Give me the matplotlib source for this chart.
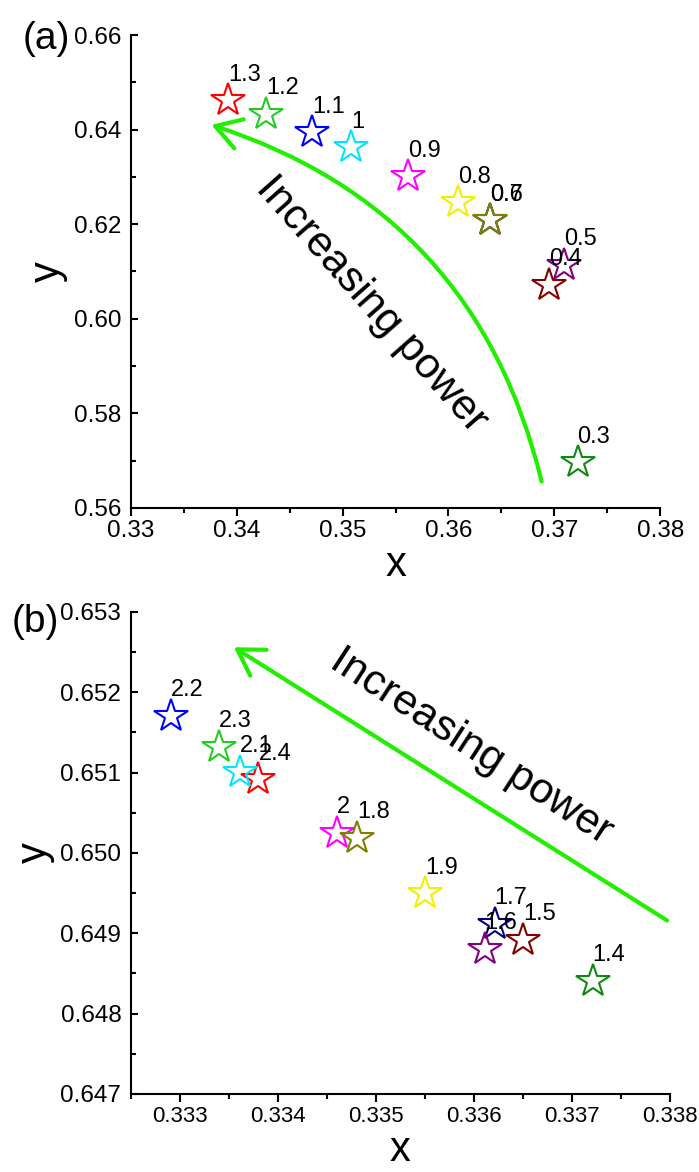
import matplotlib
matplotlib.use("Agg")
import matplotlib.pyplot as plt
from matplotlib.patches import FancyArrowPatch
from matplotlib.ticker import MultipleLocator, FormatStrFormatter

plt.rcParams['font.family'] = ['Liberation Sans', 'DejaVu Sans']

# Panel (a): CIE x, y para potencias bajas
etiquetas_a = ['1.3', '1.2', '1.1', '1', '0.9', '0.8', '0.6', '0.7', '0.5', '0.4', '0.3']
x_a = [0.3392, 0.3428, 0.3471, 0.3508, 0.3562, 0.3609, 0.3639, 0.3639, 0.3709, 0.3695, 0.3722]
y_a = [0.6462, 0.6434, 0.6395, 0.6363, 0.6302, 0.6246, 0.6208, 0.6209, 0.6114, 0.6072, 0.5697]
colores_a = ['#ff0000', '#22cc22', '#0000ff', '#00e5ff', '#ff00ff', '#f0f000',
             '#000080', '#808000', '#800080', '#800000', '#118811']

# Panel (b): CIE x, y para potencias altas
etiquetas_b = ['2.4', '2.3', '2.2', '2.1', '2', '1.9', '1.8', '1.7', '1.6', '1.5', '1.4']
x_b = [0.33380, 0.33340, 0.33291, 0.33361, 0.33460, 0.33550, 0.33481, 0.33621, 0.33611, 0.33650, 0.33721]
y_b = [0.65092, 0.65132, 0.65171, 0.65101, 0.65025, 0.64950, 0.65019, 0.64912, 0.64881, 0.64892, 0.64841]
colores_b = ['#ff0000', '#22cc22', '#0000ff', '#00e5ff', '#ff00ff', '#f0f000',
             '#808000', '#000080', '#800080', '#800000', '#118811']

verde = '#22ee00'

fig = plt.figure(figsize=(6.99, 11.72), dpi=100)
ax1 = fig.add_axes([0.1874, 0.5666, 0.757, 0.4035])
ax2 = fig.add_axes([0.1874, 0.0666, 0.771, 0.4113])


# Funcion para dar el estilo de Origin a los ejes
def estilo_ejes(ax, xlim, ylim, xmaj, xmin, ymaj, ymin, fmt_x, fmt_y, tam_x=17.5):
    ax.set_xlim(*xlim)
    ax.set_ylim(*ylim)
    ax.xaxis.set_major_locator(MultipleLocator(xmaj))
    ax.xaxis.set_minor_locator(MultipleLocator(xmin))
    ax.yaxis.set_major_locator(MultipleLocator(ymaj))
    ax.yaxis.set_minor_locator(MultipleLocator(ymin))
    ax.xaxis.set_major_formatter(FormatStrFormatter(fmt_x))
    ax.yaxis.set_major_formatter(FormatStrFormatter(fmt_y))
    for lado in ['top', 'right']:
        ax.spines[lado].set_visible(False)
    for lado in ['left', 'bottom']:
        ax.spines[lado].set_linewidth(1.5)
    ax.tick_params(axis='x', which='major', direction='out', length=6, width=1.5,
                   labelsize=tam_x, pad=3)
    ax.tick_params(axis='x', which='minor', direction='out', length=3.5, width=1.5)
    ax.tick_params(axis='y', which='major', direction='in', length=5, width=1.5,
                   labelsize=17.5, pad=7)
    ax.tick_params(axis='y', which='minor', direction='in', length=3.5, width=1.5)
    ax.set_xlabel('x', fontsize=30, labelpad=2)
    ax.set_ylabel('y', fontsize=30, labelpad=4)


def dibujar_estrellas(ax, xs, ys, colores, etiquetas):
    for x, y, c, lbl in zip(xs, ys, colores, etiquetas):
        ax.plot(x, y, marker='*', markersize=25, markerfacecolor='none',
                markeredgecolor=c, markeredgewidth=1.5, linestyle='none')
        ax.annotate(lbl, (x, y), xytext=(0, 14), textcoords='offset points',
                    ha='left', va='baseline', fontsize=17)


estilo_ejes(ax1, (0.33, 0.38), (0.56, 0.66), 0.01, 0.005, 0.02, 0.01, '%.2f', '%.2f')
dibujar_estrellas(ax1, x_a, y_a, colores_a, etiquetas_a)
flecha1 = FancyArrowPatch((0.3688, 0.5656), (0.3376, 0.641),
                          connectionstyle='arc3,rad=0.28',
                          arrowstyle='->,head_length=0.9,head_width=0.55',
                          mutation_scale=20, color=verde, lw=3,
                          shrinkA=0, shrinkB=0)
ax1.add_patch(flecha1)
ax1.text(0.3527, 0.6030, 'Increasing power', fontsize=31, rotation=-48.5,
         ha='center', va='center', rotation_mode='anchor')

estilo_ejes(ax2, (0.3325, 0.338), (0.647, 0.653), 0.001, 0.0005, 0.001, 0.0005,
            '%.3f', '%.3f', tam_x=16)
dibujar_estrellas(ax2, x_b, y_b, colores_b, etiquetas_b)
flecha2 = FancyArrowPatch((0.33797, 0.64916), (0.33355, 0.65256),
                          arrowstyle='->,head_length=0.9,head_width=0.55',
                          mutation_scale=20, color=verde, lw=3,
                          shrinkA=0, shrinkB=0)
ax2.add_patch(flecha2)
ax2.text(0.33597, 0.65132, 'Increasing power', fontsize=31, rotation=-33,
         ha='center', va='center', rotation_mode='anchor')

fig.text(23 / 699, 1 - 39 / 1172, '(a)', fontsize=28, ha='left', va='center')
fig.text(12 / 699, 1 - 622 / 1172, '(b)', fontsize=28, ha='left', va='center')

fig.savefig('out.png', dpi=100, facecolor='white')
